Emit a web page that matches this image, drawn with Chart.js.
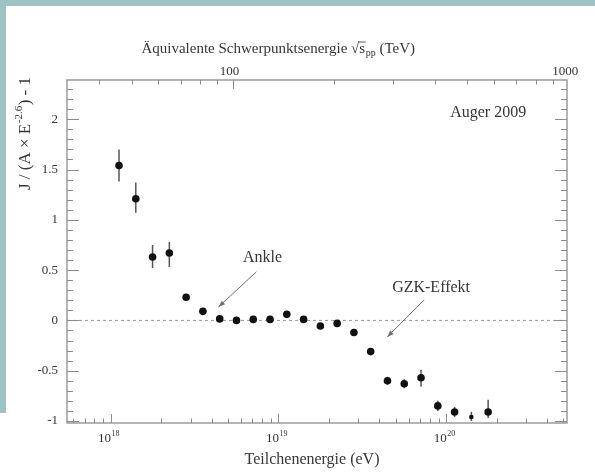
<!DOCTYPE html>
<html>
<head>
<meta charset="utf-8">
<script src="https://cdn.jsdelivr.net/npm/chart.js@4.4.0/dist/chart.umd.min.js"></script>
<style>
html, body { margin: 0; padding: 0; background: #fff; }
#wrap { position: relative; width: 595px; height: 472px; overflow: hidden; }
.band { position: absolute; background: #9ec3c3; }
canvas { position: absolute; left: 0; top: 0; filter: blur(0.4px); }
</style>
</head>
<body>
<div id="wrap">
  <div class="band" style="left:0;top:0;width:595px;height:6px"></div>
  <div class="band" style="left:0;top:0;width:6px;height:413px"></div>
  <canvas id="chart" width="595" height="472"></canvas>
</div>
<script>
// log10 of the particle energy (eV)
const logEnergy = [18.05, 18.15, 18.25, 18.35, 18.45, 18.55, 18.65, 18.75, 18.85, 18.95,
                   19.05, 19.15, 19.25, 19.35, 19.45, 19.55, 19.65, 19.75, 19.85, 19.95,
                   20.05, 20.15, 20.25];
// J / (A x E^-2.6) - 1
const residual = [1.54, 1.21, 0.63, 0.67, 0.23, 0.09, 0.015, 0.0, 0.01, 0.01,
                  0.06, 0.01, -0.055, -0.03, -0.12, -0.31, -0.60, -0.63, -0.57, -0.85,
                  -0.91, -0.96, -0.91];
const errUp = [0.16, 0.16, 0.12, 0.11, 0.03, 0.02, 0.015, 0.015, 0.015, 0.015,
               0.015, 0.015, 0.02, 0.02, 0.03, 0.035, 0.04, 0.045, 0.08, 0.05,
               0.05, 0.05, 0.12];
const errDown = [0.16, 0.14, 0.11, 0.14, 0.03, 0.02, 0.015, 0.015, 0.015, 0.015,
                 0.015, 0.015, 0.02, 0.02, 0.03, 0.035, 0.04, 0.045, 0.09, 0.05,
                 0.05, 0.04, 0.06];

const yTicks = [-1, -0.5, 0, 0.5, 1, 1.5, 2];
const xDecades = [18, 19, 20];
const sqrtsLabels = [100, 1000];

const notes = [
  { text: "Ankle", x: 18.905, y: 0.62, tail: [18.869, 0.483], tip: [18.643, 0.134] },
  { text: "GZK-Effekt", x: 19.91, y: 0.32, tail: [19.869, 0.204], tip: [19.649, -0.164] },
  { text: "Auger 2009", x: 20.25, y: 2.06 }
];

const FONT = '"Liberation Serif", "DejaVu Serif", serif';
const TEXT = "#363636";
const LINE = "#8c8c8c";

// equivalent pp centre-of-mass energy (TeV) -> log10 E(eV), fixed target
function sqrtsToLogE(s) { return 2 * Math.log10(s) + 24 - Math.log10(2 * 0.938e9); }

const decor = {
  id: "decor",
  beforeDatasetsDraw(chart) {
    const ctx = chart.ctx, ca = chart.chartArea;
    const xs = chart.scales.x, ys = chart.scales.y;
    ctx.save();
    // zero line
    ctx.strokeStyle = "#9a9a9a";
    ctx.lineWidth = 1;
    ctx.setLineDash([3, 3]);
    const y0 = ys.getPixelForValue(0);
    ctx.beginPath(); ctx.moveTo(ca.left, y0); ctx.lineTo(ca.right, y0); ctx.stroke();
    ctx.setLineDash([]);
    // error bars
    ctx.strokeStyle = "#555";
    ctx.lineWidth = 1.5;
    logEnergy.forEach((l, i) => {
      const px = xs.getPixelForValue(Math.pow(10, l));
      ctx.beginPath();
      ctx.moveTo(px, ys.getPixelForValue(residual[i] + errUp[i]));
      ctx.lineTo(px, ys.getPixelForValue(residual[i] - errDown[i]));
      ctx.stroke();
    });
    ctx.restore();
  },
  afterDraw(chart) {
    const ctx = chart.ctx, ca = chart.chartArea;
    const xs = chart.scales.x, ys = chart.scales.y;
    const xMinL = Math.log10(xs.min), xMaxL = Math.log10(xs.max);
    ctx.save();
    ctx.strokeStyle = LINE;
    ctx.lineWidth = 1.3;
    ctx.strokeRect(ca.left, ca.top, ca.right - ca.left, ca.bottom - ca.top);

    ctx.lineWidth = 1;
    ctx.beginPath();
    // y ticks on both sides
    for (let k = -10; k <= 23; k++) {
      const v = k / 10;
      if (v < ys.min || v > ys.max) continue;
      const py = Math.round(ys.getPixelForValue(v)) + 0.5;
      const len = k % 5 === 0 ? 12 : 6;
      ctx.moveTo(ca.left, py); ctx.lineTo(ca.left + len, py);
      ctx.moveTo(ca.right, py); ctx.lineTo(ca.right - len, py);
    }
    // bottom log ticks
    for (let d = 17; d <= 20; d++) {
      for (let m = 1; m <= 9; m++) {
        const l = d + Math.log10(m);
        if (l < xMinL || l > xMaxL) continue;
        const px = Math.round(xs.getPixelForValue(m * Math.pow(10, d))) + 0.5;
        const len = m === 1 ? 9 : 4.5;
        ctx.moveTo(px, ca.bottom); ctx.lineTo(px, ca.bottom - len);
      }
    }
    // top sqrt(s) ticks
    for (let d = 1; d <= 3; d++) {
      for (let m = 1; m <= 9; m++) {
        const l = sqrtsToLogE(m * Math.pow(10, d));
        if (l < xMinL || l > xMaxL) continue;
        const px = Math.round(xs.getPixelForValue(Math.pow(10, l))) + 0.5;
        const len = m === 1 ? 9 : 4.5;
        ctx.moveTo(px, ca.top); ctx.lineTo(px, ca.top + len);
      }
    }
    ctx.stroke();

    ctx.fillStyle = TEXT;
    // y tick labels
    ctx.font = "13px " + FONT;
    ctx.textAlign = "right";
    ctx.textBaseline = "middle";
    yTicks.forEach(v => ctx.fillText(String(v), ca.left - 9, ys.getPixelForValue(v)));

    // bottom decade labels with superscript
    ctx.textBaseline = "alphabetic";
    ctx.textAlign = "left";
    xDecades.forEach(d => {
      const px = xs.getPixelForValue(Math.pow(10, d));
      ctx.font = "13px " + FONT;
      const w1 = ctx.measureText("10").width;
      ctx.font = "8px " + FONT;
      const w2 = ctx.measureText(String(d)).width;
      const x0 = px - 2 - (w1 + w2) / 2;
      ctx.font = "13px " + FONT;
      ctx.fillText("10", x0, ca.bottom + 19);
      ctx.font = "8px " + FONT;
      ctx.fillText(String(d), x0 + w1 + 0.5, ca.bottom + 13);
    });

    // top labels
    ctx.font = "13px " + FONT;
    ctx.textAlign = "center";
    sqrtsLabels.forEach(s => {
      const px = xs.getPixelForValue(Math.pow(10, sqrtsToLogE(s)));
      ctx.fillText(String(s), px - 3, ca.top - 5);
    });

    // top axis title
    ctx.textAlign = "left";
    const t1 = "Äquivalente Schwerpunktsenergie √s";
    const t2 = " (TeV)";
    ctx.font = "15px " + FONT; const w1 = ctx.measureText(t1).width;
    ctx.font = "10px " + FONT; const w2 = ctx.measureText("pp").width;
    ctx.font = "15px " + FONT; const w3 = ctx.measureText(t2).width;
    const tx = (ca.left + ca.right) / 2 - 39 - (w1 + w2 + w3) / 2;
    const tb = 53;
    ctx.fillText(t1, tx, tb);
    const sw = ctx.measureText("s").width;
    ctx.beginPath();
    ctx.strokeStyle = TEXT; ctx.lineWidth = 0.8;
    ctx.moveTo(tx + w1 - sw - 1, tb - 11); ctx.lineTo(tx + w1 + 0.5, tb - 11); ctx.stroke();
    ctx.font = "10px " + FONT;
    ctx.fillText("pp", tx + w1 + 0.5, tb + 3);
    ctx.font = "15px " + FONT;
    ctx.fillText(t2, tx + w1 + w2 + 0.5, tb);

    // bottom axis title
    ctx.font = "16px " + FONT;
    ctx.textAlign = "center";
    ctx.fillText("Teilchenenergie (eV)", (ca.left + ca.right) / 2 - 5, ca.bottom + 41);

    // y axis title (rotated)
    ctx.save();
    ctx.translate(30, 190);
    ctx.rotate(-Math.PI / 2);
    ctx.textAlign = "left";
    ctx.textBaseline = "alphabetic";
    const a = "J / (A × E", b = "-2.6", c = ") - 1";
    ctx.font = "17px " + FONT; ctx.fillText(a, 0, 0);
    let off = ctx.measureText(a).width;
    ctx.font = "11px " + FONT; ctx.fillText(b, off + 0.5, -8);
    off += ctx.measureText(b).width + 1;
    ctx.font = "17px " + FONT; ctx.fillText(c, off, 0);
    ctx.restore();

    // annotations
    ctx.font = "16px " + FONT;
    ctx.textAlign = "center";
    ctx.textBaseline = "middle";
    notes.forEach(n => {
      ctx.fillStyle = TEXT;
      ctx.fillText(n.text, xs.getPixelForValue(Math.pow(10, n.x)), ys.getPixelForValue(n.y));
      if (!n.tip) return;
      const x1 = xs.getPixelForValue(Math.pow(10, n.tail[0])), y1 = ys.getPixelForValue(n.tail[1]);
      const x2 = xs.getPixelForValue(Math.pow(10, n.tip[0])), y2 = ys.getPixelForValue(n.tip[1]);
      ctx.strokeStyle = "#6e6e6e"; ctx.lineWidth = 1;
      ctx.beginPath(); ctx.moveTo(x1, y1); ctx.lineTo(x2, y2); ctx.stroke();
      const ang = Math.atan2(y2 - y1, x2 - x1), hl = 7;
      ctx.fillStyle = "#6e6e6e";
      ctx.beginPath();
      ctx.moveTo(x2, y2);
      ctx.lineTo(x2 - hl * Math.cos(ang - 0.35), y2 - hl * Math.sin(ang - 0.35));
      ctx.lineTo(x2 - hl * Math.cos(ang + 0.35), y2 - hl * Math.sin(ang + 0.35));
      ctx.closePath(); ctx.fill();
    });
    ctx.restore();
  }
};

new Chart(document.getElementById("chart"), {
  type: "scatter",
  data: {
    datasets: [{
      label: "Auger 2009",
      data: logEnergy.map((l, i) => ({ x: Math.pow(10, l), y: residual[i] })),
      backgroundColor: "#111",
      borderWidth: 0,
      pointRadius: logEnergy.map((l, i) => (i === 21 ? 2.3 : 3.8))
    }]
  },
  options: {
    responsive: false,
    animation: false,
    layout: { padding: { left: 67, top: 80, right: 28, bottom: 49 } },
    plugins: { legend: { display: false }, tooltip: { enabled: false } },
    scales: {
      x: { type: "logarithmic", min: Math.pow(10, 17.74), max: Math.pow(10, 20.72), display: false },
      y: { type: "linear", min: -1.02, max: 2.39, display: false }
    }
  },
  plugins: [decor]
});
</script>
</body>
</html>
